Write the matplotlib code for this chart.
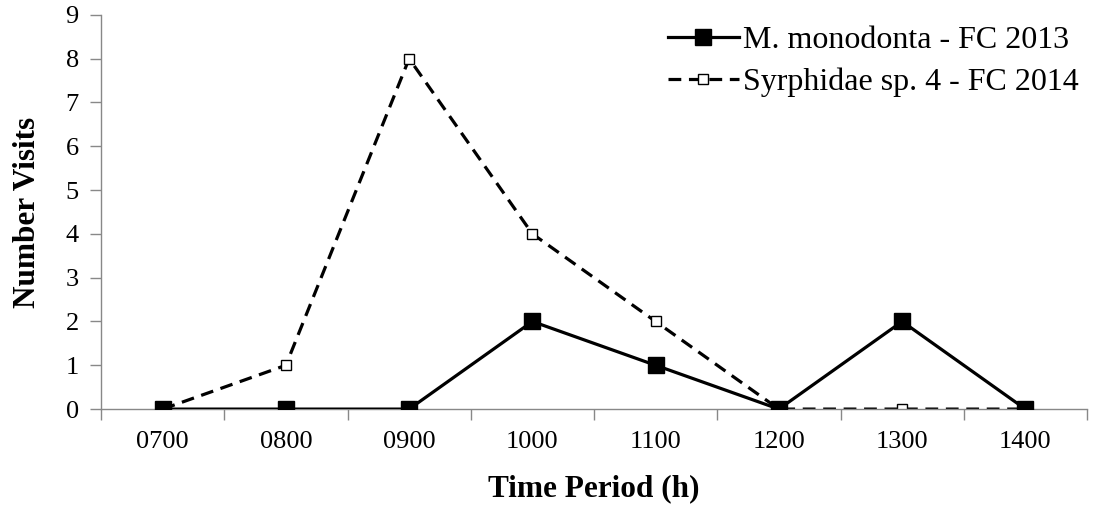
import numpy as np
import matplotlib.pyplot as plt

plt.rcParams['font.family'] = ['Liberation Serif', 'DejaVu Serif']

periods = ["0700", "0800", "0900", "1000", "1100", "1200", "1300", "1400"]
monodonta = [0, 0, 0, 2, 1, 0, 2, 0]
syrphidae = [0, 1, 8, 4, 2, 0, 0, 0]

fig = plt.figure(figsize=(10.98, 5.12), dpi=100)
ax = fig.add_axes([0.092, 0.201, 0.898, 0.770])

x = np.arange(len(periods))
ax.plot(x, syrphidae, color="black", linestyle=(0, (4, 2.4)), linewidth=2.3,
        marker="s", markersize=7, markerfacecolor="white", markeredgecolor="black",
        markeredgewidth=1.0, label="Syrphidae sp. 4 - FC 2014", zorder=2)
ax.plot(x, monodonta, color="black", linewidth=2.3, marker="s", markersize=11,
        label="M. monodonta - FC 2013", zorder=3)

ax.set_xlim(-0.5, len(periods) - 0.5)
ax.set_ylim(0, 9)
ax.set_yticks(range(0, 10))
ax.set_xticks(x)
ax.set_xticklabels(periods)
ax.set_xticks(np.arange(-0.5, len(periods)), minor=True)
ax.tick_params(axis="x", which="major", length=0, pad=16, labelsize=19)
ax.tick_params(axis="x", which="minor", length=8, color="#888888", width=1)
ax.tick_params(axis="y", length=8, color="#888888", width=1, labelsize=19, pad=8)

for side in ["top", "right"]:
    ax.spines[side].set_visible(False)
for side in ["left", "bottom"]:
    ax.spines[side].set_color("#888888")
    ax.spines[side].set_linewidth(1)

ax.set_xlabel("Time Period (h)", fontsize=22.5, fontweight="bold", labelpad=15)
ax.set_ylabel("Number Visits", fontsize=22.5, fontweight="bold", labelpad=17)

handles, labels = ax.get_legend_handles_labels()
ax.legend(handles[::-1], labels[::-1], loc="upper right", frameon=False,
          fontsize=23, handlelength=2.2, handletextpad=0.15, labelspacing=0.4,
          borderaxespad=0.0, bbox_to_anchor=(1.005, 1.005))

fig.savefig("out.png", dpi=100)
